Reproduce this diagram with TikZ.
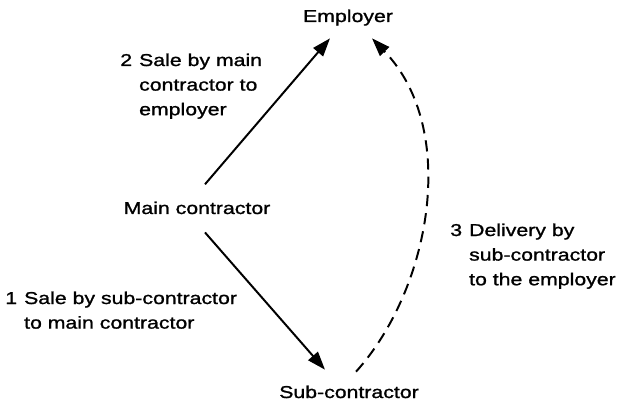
\documentclass[tikz,border=0pt]{standalone}
\usepackage{fontspec}
\setmainfont{Liberation Sans}[FakeStretch=1.24,FakeBold=1.2]
\usetikzlibrary{arrows.meta,calc}

\begin{document}
\begin{tikzpicture}[x=0.025cm,y=-0.025cm,
        party/.style={inner sep=0pt, anchor=base, font=\fontsize{12.2}{17.5}\selectfont},
        note/.style={inner sep=0pt, anchor=base west, font=\fontsize{12.2}{17.5}\selectfont},
        sale/.style={line width=1.4pt, -{Triangle[length=13pt,width=9pt]}},
        delivery/.style={sale, dash pattern=on 8pt off 5pt}]
        \useasboundingbox (0,0) rectangle (619,407);

        \node[party] (employer) at (348,22) {Employer};
        \node[party] (main) at (197,214) {Main contractor};
        \node[party] (sub) at (349,398) {Sub-contractor};

        \node[note] (note2) at (120,66) {\begin{tabular}[t]{@{}l@{\hspace{5pt}}l@{}}2 & Sale by main\\ & contractor to\\ & employer\end{tabular}};
        \node[note] (note1) at (5,304) {\begin{tabular}[t]{@{}l@{\hspace{5pt}}l@{}}1 & Sale by sub-contractor\\ & to main contractor\end{tabular}};
        \node[note] (note3) at (450,236) {\begin{tabular}[t]{@{}l@{\hspace{5pt}}l@{}}3 & Delivery by\\ & sub-contractor\\ & to the employer\end{tabular}};

        \draw[sale] ($(main.north)+(8,-17)$) -- ($(employer.south)+(-18,12.5)$); % step 2
        \draw[sale] ($(main.south)+(8,18)$) -- ($(sub.north)+(-24,-15.6)$); % step 1
        \draw[delivery] ($(sub.north)+(7,-13.6)$) .. controls (430,290) and (460,130) .. ($(employer.south)+(24,12.5)$); % step 3
    \end{tikzpicture}
\end{document}
